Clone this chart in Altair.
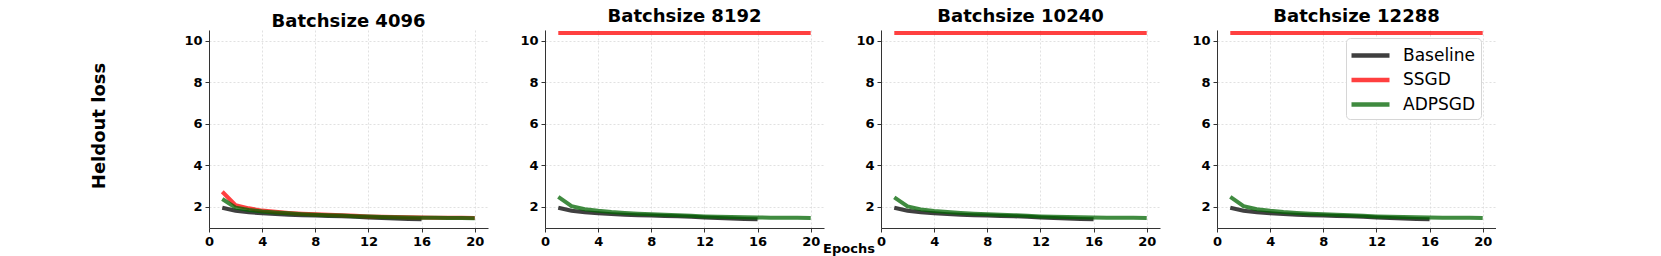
import altair as alt
import pandas as pd

# ---------------- data ----------------
epochs_full = [1, 2, 3, 4, 5, 6, 7, 8, 9, 10, 11, 12, 13, 14, 15, 16, 17, 18, 19, 20]
epochs_base = [1, 2, 3, 4, 5, 6, 7, 8, 9, 10, 11, 12, 13, 14, 15, 16]

baseline = [1.95, 1.80, 1.73, 1.68, 1.64, 1.61, 1.59, 1.57, 1.55, 1.54,
            1.51, 1.48, 1.45, 1.43, 1.41, 1.39]

ssgd_4096 = [2.72, 2.07, 1.92, 1.81, 1.75, 1.70, 1.66, 1.63, 1.61, 1.59,
             1.56, 1.53, 1.51, 1.50, 1.49, 1.48, 1.47, 1.46, 1.46, 1.45]
ssgd_8192 = [10.38, 10.38, 10.38, 10.38, 10.38, 10.38, 10.38, 10.38, 10.38, 10.38,
             10.38, 10.38, 10.38, 10.38, 10.38, 10.38, 10.38, 10.38, 10.38, 10.38]
ssgd_10240 = [10.38, 10.38, 10.38, 10.38, 10.38, 10.38, 10.38, 10.38, 10.38, 10.38,
              10.38, 10.38, 10.38, 10.38, 10.38, 10.38, 10.38, 10.38, 10.38, 10.38]
ssgd_12288 = [10.38, 10.38, 10.38, 10.38, 10.38, 10.38, 10.38, 10.38, 10.38, 10.38,
              10.38, 10.38, 10.38, 10.38, 10.38, 10.38, 10.38, 10.38, 10.38, 10.38]

adpsgd_4096 = [2.37, 1.95, 1.84, 1.77, 1.72, 1.68, 1.64, 1.61, 1.59, 1.57,
               1.54, 1.52, 1.50, 1.49, 1.48, 1.47, 1.46, 1.45, 1.45, 1.44]
adpsgd_8192 = [2.47, 2.02, 1.88, 1.80, 1.74, 1.70, 1.66, 1.63, 1.61, 1.59,
               1.56, 1.53, 1.51, 1.50, 1.49, 1.48, 1.47, 1.46, 1.46, 1.45]
adpsgd_10240 = [2.45, 2.01, 1.87, 1.79, 1.74, 1.70, 1.66, 1.63, 1.61, 1.59,
                1.56, 1.53, 1.51, 1.50, 1.49, 1.48, 1.47, 1.46, 1.46, 1.45]
adpsgd_12288 = [2.47, 2.02, 1.88, 1.80, 1.74, 1.70, 1.66, 1.63, 1.61, 1.59,
                1.56, 1.53, 1.51, 1.50, 1.49, 1.48, 1.47, 1.46, 1.46, 1.45]

panel_titles = ["Batchsize 4096", "Batchsize 8192", "Batchsize 10240", "Batchsize 12288"]
ssgd_series = [ssgd_4096, ssgd_8192, ssgd_10240, ssgd_12288]
adpsgd_series = [adpsgd_4096, adpsgd_8192, adpsgd_10240, adpsgd_12288]

series_names = ["Baseline", "SSGD", "ADPSGD"]
series_colors = ["black", "red", "darkgreen"]

x_ticks = [0, 4, 8, 12, 16, 20]
y_ticks = [2, 4, 6, 8, 10]
x_label = "Epochs"
y_label = "Heldout loss"

FONT = "DejaVu Sans"
W, H = 279, 198
NBSP = "\u00a0"


def make_panel(i):
    first = i == 0
    last = i == 3
    df_b = pd.DataFrame({"epoch": epochs_base, "loss": baseline, "series": "Baseline"})
    df_s = pd.DataFrame({"epoch": epochs_full, "loss": ssgd_series[i], "series": "SSGD"})
    df_a = pd.DataFrame({"epoch": epochs_full, "loss": adpsgd_series[i], "series": "ADPSGD"})

    x_enc = alt.X(
        "epoch:Q",
        scale=alt.Scale(domain=[0, 21], nice=False, zero=False),
        axis=alt.Axis(values=x_ticks, title=None, labelFlush=False, format="d"),
    )
    y_enc = alt.Y(
        "loss:Q",
        scale=alt.Scale(domain=[0.97, 10.53], nice=False, zero=False),
        axis=alt.Axis(values=y_ticks, title=None, format="d"),
    )
    if last:
        legend = alt.Legend(
            title=None,
            orient="none",
            legendX=129,
            legendY=8,
            symbolType="M-1.2,0H2.6",
            symbolSize=400,
            symbolStrokeWidth=4.5,
            symbolOpacity=0.75,
            labelFont=FONT,
            labelFontSize=17,
            labelColor="black",
            labelOffset=27,
            labelExpr=("(datum.label == 'Baseline' ? datum.label : '" + NBSP
                       + "' + datum.label) + '" + NBSP + "'"),
            rowPadding=2.5,
            padding=5,
            strokeColor="#d6d6d6",
            fillColor="white",
            cornerRadius=4,
        )
    else:
        legend = None
    color = alt.Color(
        "series:N",
        scale=alt.Scale(domain=series_names, range=series_colors),
        legend=legend,
    )

    layers = []
    for df in (df_b, df_s, df_a):
        layers.append(
            alt.Chart(df)
            .mark_line(strokeWidth=4, opacity=0.75)
            .encode(x=x_enc, y=y_enc, color=color)
        )
    if first:
        layers.append(
            alt.Chart(pd.DataFrame({"t": [y_label]}))
            .mark_text(font=FONT, fontSize=18, fontWeight="bold", color="black",
                       align="center", baseline="middle", angle=270)
            .encode(x=alt.value(-109.5), y=alt.value(96), text="t:N")
        )
    if i == 1:
        layers.append(
            alt.Chart(pd.DataFrame({"t": [x_label]}))
            .mark_text(font=FONT, fontSize=13, fontWeight="bold", color="black",
                       align="center", baseline="middle")
            .encode(x=alt.value(304), y=alt.value(219), text="t:N")
        )
    return alt.layer(*layers).properties(
        width=W, height=H,
        title=alt.TitleParams(panel_titles[i]),
    )


chart = (
    alt.hconcat(*[make_panel(i) for i in range(4)], spacing=57, bounds="flush")
    .resolve_scale(color="independent")
    .properties(padding={"left": 82, "top": 0, "right": 0, "bottom": 0})
    .configure_view(stroke=None)
    .configure_axis(
        domainColor="#333333",
        domainWidth=1,
        tickColor="#333333",
        tickSize=4,
        labelPadding=3,
        labelFont=FONT,
        labelFontSize=13,
        labelFontWeight="bold",
        labelColor="black",
        gridColor="#d9d9d9",
        gridDash=[2, 2],
        gridWidth=0.8,
    )
    .configure_title(font=FONT, fontSize=18, fontWeight="bold", color="black", offset=-1)
)

chart.save("out.html", embed_options={"renderer": "svg", "actions": False})
